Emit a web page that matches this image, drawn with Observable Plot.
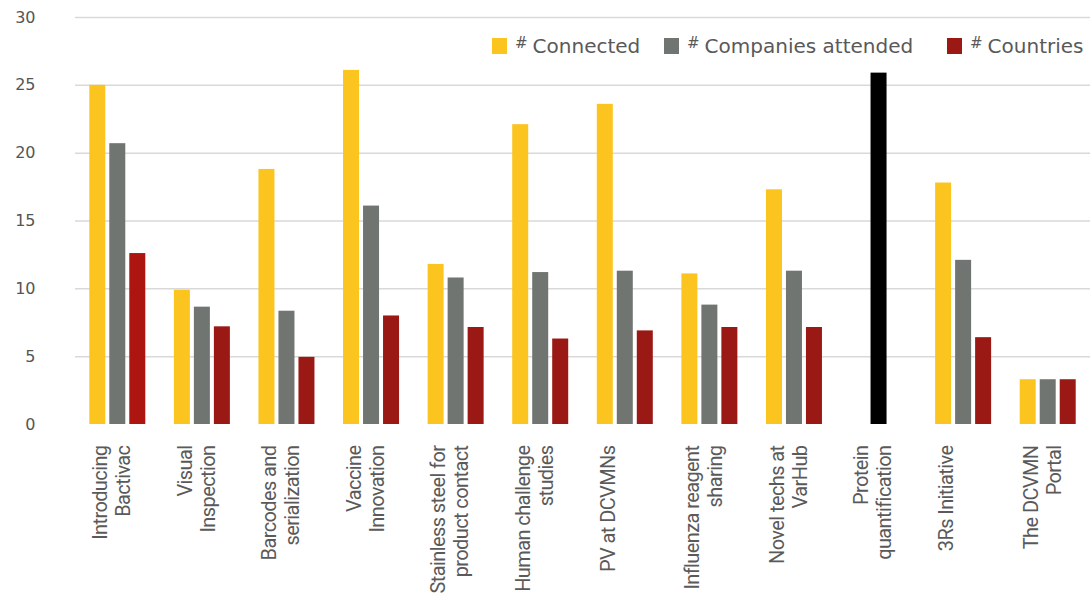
<!DOCTYPE html>
<html><head><meta charset="utf-8">
<script src="https://cdn.jsdelivr.net/npm/d3@7"></script>
<script src="https://cdn.jsdelivr.net/npm/@observablehq/plot@0.6"></script>
<style>
body{margin:0;background:#fff;}
#wrap{position:relative;width:1090px;height:599px;overflow:hidden;}
#legend{position:absolute;top:36px;left:492px;font-family:"DejaVu Sans";font-size:20px;color:#595959;white-space:nowrap;}
.item{position:absolute;top:0;display:flex;align-items:flex-start;}
.sw{width:15px;height:16px;margin-top:2px;margin-right:8px;flex:none;}
.hash{font-size:15px;line-height:15px;margin-right:5px;margin-top:0px;}
.lab{line-height:20px;}
svg g[aria-label="text"] text{letter-spacing:-0.6px;}
</style></head><body><div id="wrap"><div id="legend"></div></div>
<script>
const groups = ["Introducing Bactivac","Visual Inspection","Barcodes and serialization","Vaccine Innovation","Stainless steel for product contact","Human challenge studies","PV at DCVMNs","Influenza reagent sharing","Novel techs at VarHub","Protein quantification","3Rs Initiative","The DCVMN Portal"];
const groupLabels = ["Introducing\nBactivac","Visual\nInspection","Barcodes and\nserialization","Vaccine\nInnovation","Stainless steel for\nproduct contact","Human challenge\nstudies","PV at DCVMNs","Influenza reagent\nsharing","Novel techs at\nVarHub","Protein\nquantification","3Rs Initiative","The DCVMN\nPortal"];
const seriesNames = ["# Connected","# Companies attended","# Countries"];
const connected = [25, 9.9, 18.8, 26.1, 11.8, 22.1, 23.6, 11.1, 17.3, null, 17.8, 3.3];
const companies = [20.7, 8.65, 8.35, 16.1, 10.8, 11.2, 11.3, 8.8, 11.3, 25.9, 12.1, 3.3];
const countries = [12.6, 7.2, 4.95, 8.0, 7.15, 6.3, 6.9, 7.15, 7.15, null, 6.4, 3.3];
const yTicks = [0, 5, 10, 15, 20, 25, 30];
const seriesColors = ["#FCC41F", "#707571", "#9A1915"];

const W = 1090, ML = 75, MR = 0;
const bandW = (W - ML - MR) / groups.length;
const barW = 16, barStep = 20;

function barFill(d) {
  if (d.group === "Protein quantification") return "#000000";
  if (d.group === "Introducing Bactivac" && d.series === "# Countries") return "#AD1511";
  return seriesColors[seriesNames.indexOf(d.series)];
}

const seriesArrays = [connected, companies, countries];
const barMarks = seriesArrays.map((arr, j) => {
  const rows = groups.map((g, i) => ({group: g, series: seriesNames[j], value: arr[i]})).filter(d => d.value != null);
  const off = (j - 1) * barStep;
  return Plot.barY(rows, {x: "group", y: "value", fill: barFill,
    insetLeft: bandW / 2 - barW / 2 + off, insetRight: bandW / 2 - barW / 2 - off});
});

const chart = Plot.plot({
  width: W, height: 599,
  marginLeft: ML, marginRight: MR, marginTop: 17, marginBottom: 175,
  style: {fontFamily: "DejaVu Sans", fontSize: "16px", color: "#555"},
  x: {domain: groups, padding: 0, axis: null, round: false, label: null},
  y: {domain: [0, 30], axis: null, label: null},
  color: {type: "identity"},
  marks: [
    Plot.ruleY(yTicks.filter(t => t > 0), {y: d => d, stroke: "#d9d9d9", strokeWidth: 1.5}),
    Plot.axisY({ticks: yTicks, tickSize: 0, tickPadding: 40, label: null, fill: "#555"}),
    ...barMarks,
    Plot.text(groups, {x: d => d, text: (d, i) => groupLabels[i], frameAnchor: "bottom", rotate: -90,
      textAnchor: "end", lineAnchor: "top", dx: -27, dy: 21, fontSize: 20, lineHeight: 1.15,
      fill: "#5a5a5a", fontFamily: "Roboto"})
  ]
});
document.getElementById("wrap").appendChild(chart);

const legendX = [0, 172, 455];
const legend = document.getElementById("legend");
seriesNames.forEach((s, j) => {
  const it = document.createElement("div");
  it.className = "item";
  it.style.left = legendX[j] + "px";
  it.innerHTML = `<div class="sw" style="background:${seriesColors[j]}"></div><span class="hash">#</span><span class="lab">${s.replace("# ", "")}</span>`;
  legend.appendChild(it);
});
</script>
</body></html>
